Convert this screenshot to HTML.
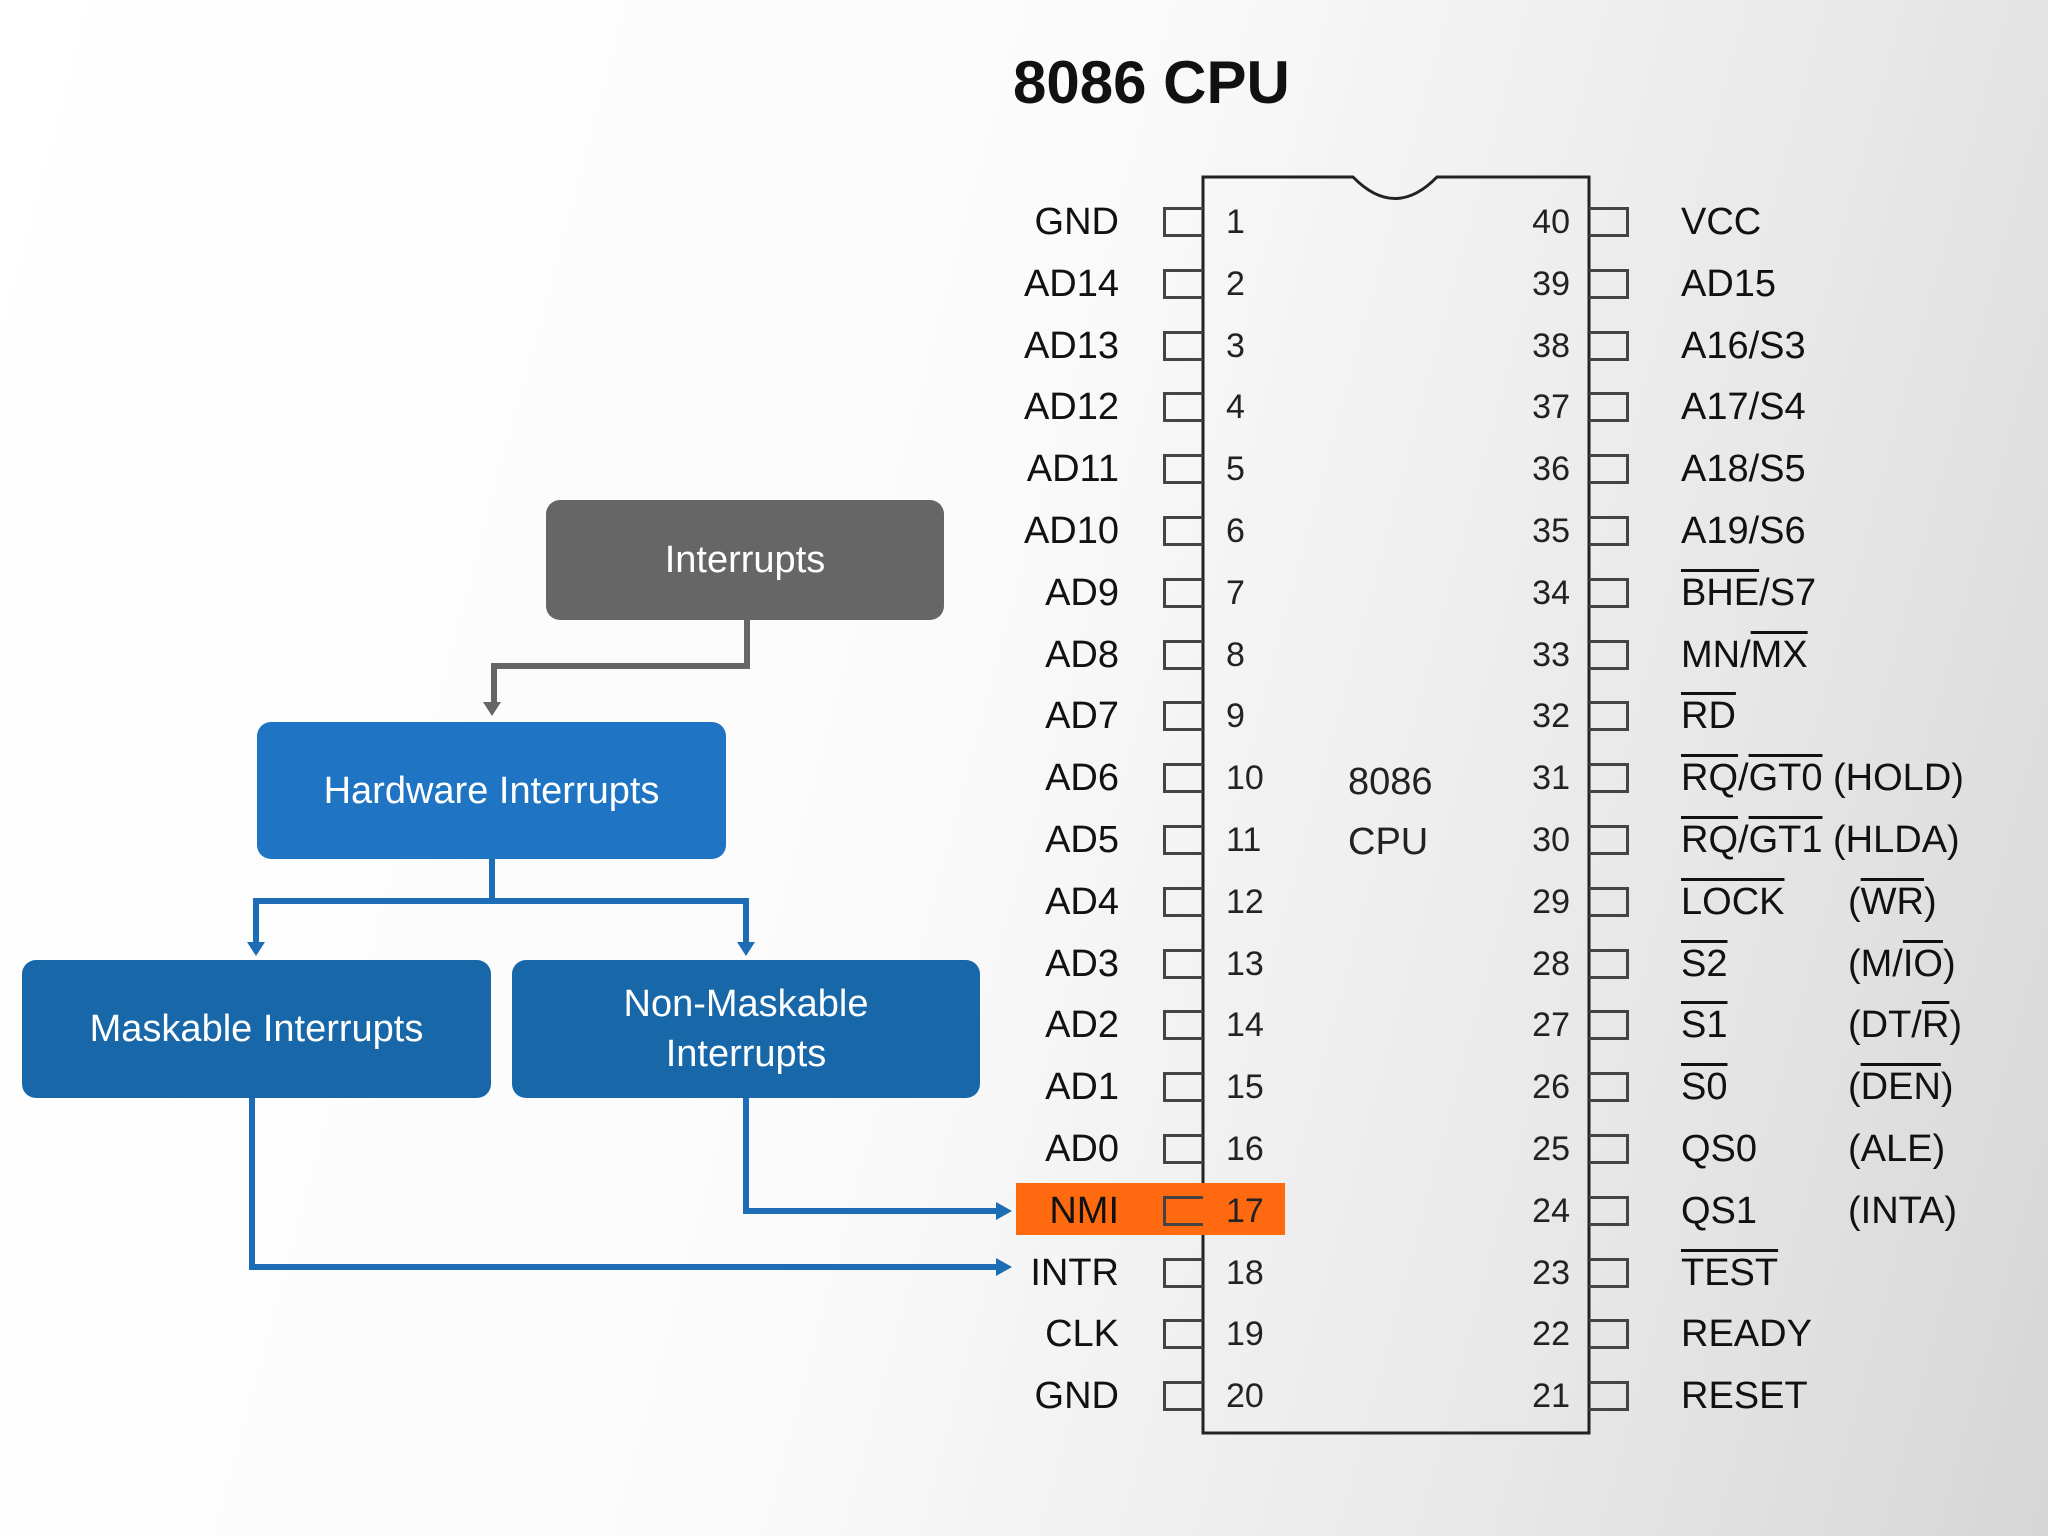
<!DOCTYPE html>
<html><head><meta charset="utf-8"><style>
body{margin:0;width:2048px;height:1536px;overflow:hidden;position:relative;font-family:"Liberation Sans",sans-serif;
background:linear-gradient(105deg,#ffffff 0%,#fbfbfb 45%,#e6e6e6 80%,#d6d6d6 100%);}
.a{position:absolute;white-space:nowrap;}
.ll{position:absolute;width:300px;left:819px;text-align:right;font-size:38px;color:#111;line-height:40px;}
.ln{position:absolute;left:1226px;font-size:34px;color:#222;line-height:40px;}
.rn{position:absolute;width:100px;left:1470px;text-align:right;font-size:34px;color:#222;line-height:40px;}
.rl{position:absolute;left:1681px;font-size:38px;color:#111;line-height:40px;}
.r2{position:absolute;left:1848px;font-size:38px;color:#111;line-height:40px;}
.pb{position:absolute;width:40px;height:30px;border:3px solid #444;box-sizing:border-box;}
.o{text-decoration:overline;text-decoration-thickness:3px;}
.box{position:absolute;border-radius:14px;color:#fff;font-size:38px;display:flex;align-items:center;justify-content:center;text-align:center;line-height:50px;}
</style></head><body>
<div class="a" style="left:1013px;top:48px;font-size:60px;font-weight:bold;color:#111;">8086 CPU</div>
<svg class="a" style="left:0;top:0" width="2048" height="1536">
<path d="M1203 177 H1353 Q1395 220 1437 177 H1589 V1433 H1203 Z" fill="none" stroke="#222" stroke-width="3"/>
<g fill="none" stroke-width="6">
<path d="M747 620 V666 H494 V706" stroke="#666"/>
<path d="M492 716 l-9 -14 h18 z" fill="#666" stroke="none"/>
<path d="M492 859 V901 H256 V946 M492 901 H746 V946" stroke="#1c6db5"/>
<path d="M256 956 l-9 -14 h18 z M746 956 l-9 -14 h18 z" fill="#1c6db5" stroke="none"/>
<path d="M252 1098 V1267 H1000" stroke="#1c6db5"/>
<path d="M1012 1267 l-16 -9 v18 z" fill="#1c6db5" stroke="none"/>
<path d="M746 1098 V1211 H1000" stroke="#1c6db5"/>
</g>
</svg>
<div class="a" style="left:1016px;top:1183px;width:269px;height:52px;background:#ff6a10;"></div>
<svg class="a" style="left:0;top:0" width="2048" height="1536"><path d="M1012 1211 l-16 -9 v18 z" fill="#1c6db5"/></svg>
<div class="box" style="left:546px;top:500px;width:398px;height:120px;background:#666;">Interrupts</div>
<div class="box" style="left:257px;top:722px;width:469px;height:137px;background:#1f74c4;">Hardware Interrupts</div>
<div class="box" style="left:22px;top:960px;width:469px;height:138px;background:#1767a9;">Maskable Interrupts</div>
<div class="box" style="left:512px;top:960px;width:468px;height:138px;background:#1767a9;">Non-Maskable<br>Interrupts</div>
<div class="a" style="left:1348px;top:752px;font-size:38px;color:#222;line-height:60px;">8086<br>CPU</div>

<div id="pins"></div>
<script>
var L=["GND","AD14","AD13","AD12","AD11","AD10","AD9","AD8","AD7","AD6","AD5","AD4","AD3","AD2","AD1","AD0","NMI","INTR","CLK","GND"];
var R=["VCC","AD15","A16/S3","A17/S4","A18/S5","A19/S6",'<span class="o">BHE</span>/S7','MN/<span class="o">MX</span>','<span class="o">RD</span>','<span class="o">RQ</span>/<span class="o">GT0</span> (HOLD)','<span class="o">RQ</span>/<span class="o">GT1</span> (HLDA)','<span class="o">LOCK</span>','<span class="o">S2</span>','<span class="o">S1</span>','<span class="o">S0</span>',"QS0","QS1",'<span class="o">TEST</span>',"READY","RESET"];
var R2=["","","","","","","","","","","",'(<span class="o">WR</span>)','(M/<span class="o">IO</span>)','(DT/<span class="o">R</span>)','(<span class="o">DEN</span>)',"(ALE)","(INTA)","","",""];
var h="";
for(var i=0;i<20;i++){var y=222+i*61.8;
h+='<div class="ll" style="top:'+(y-20)+'px">'+L[i]+'</div>';
h+='<div class="pb" style="left:1163px;top:'+(y-15)+'px;border-right:none"></div>';
h+='<div class="ln" style="top:'+(y-20)+'px">'+(i+1)+'</div>';
h+='<div class="rn" style="top:'+(y-20)+'px">'+(40-i)+'</div>';
h+='<div class="pb" style="left:1589px;top:'+(y-15)+'px;border-left:none"></div>';
h+='<div class="rl" style="top:'+(y-20)+'px">'+R[i]+'</div>';
if(R2[i])h+='<div class="r2" style="top:'+(y-20)+'px">'+R2[i]+'</div>';}
document.getElementById("pins").innerHTML=h;
</script>
</body></html>
